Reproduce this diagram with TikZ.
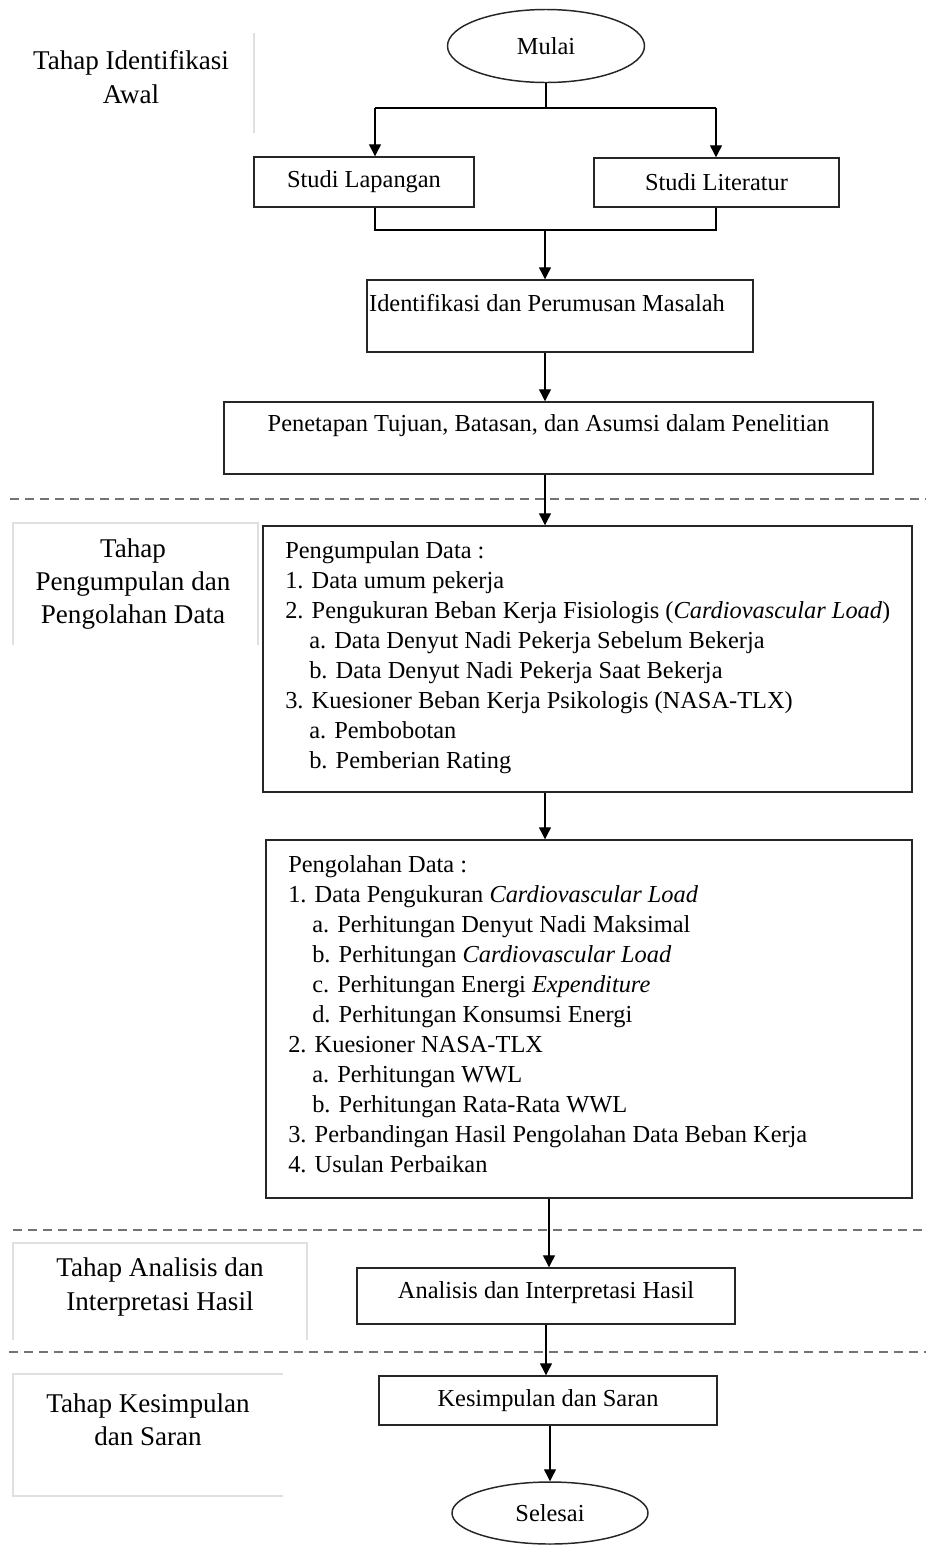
\documentclass[tikz,border=0pt]{standalone}
\usepackage{fontspec}
\setmainfont{Liberation Serif}
\usetikzlibrary{arrows.meta,shapes.geometric}
\begin{document}
\begin{tikzpicture}[x=0.75pt,y=-0.75pt,
  box/.style={draw=black!85,line width=1.1pt,rectangle,inner sep=0pt},
  oval/.style={draw=black!85,line width=1.1pt,ellipse,inner sep=0pt},
  conn/.style={line width=1pt,black},
  arr/.style={conn,-{Triangle[length=9pt,width=9pt]}},
  txt/.style={font=\fontsize{18.3}{22.5}\selectfont,inner sep=0pt},
  lbl/.style={font=\fontsize{20.3}{25}\selectfont,inner sep=0pt,align=center},
  faint/.style={draw=black!12,line width=1pt},
  sep/.style={draw=black!55,line width=1pt,dash pattern=on 6.75pt off 4.5pt}]
\useasboundingbox (0,0) rectangle (926,1546);

% stage labels
\draw[faint] (254,33) -- (254,133);
\node[lbl] (l1) at (131,77) {Tahap Identifikasi\\Awal};
\draw[faint] (13,645) -- (13,523) -- (258,523) -- (258,645);
\node[lbl] (l2) at (133,584) {Tahap\\Pengumpulan dan\\Pengolahan Data};
\draw[faint] (13,1340) -- (13,1243) -- (307,1243) -- (307,1340);
\node[lbl] (l3) at (160,1287) {Tahap Analisis dan\\Interpretasi Hasil};
\draw[faint] (283,1374) -- (13,1374) -- (13,1496) -- (283,1496);
\node[lbl] (l4) at (148,1420) {Tahap Kesimpulan\\dan Saran};

% separators
\draw[sep] (10,499) -- (926,499);
\draw[sep] (13,1230) -- (926,1230);
\draw[sep] (9,1352) -- (926,1352);

% nodes
\node[oval,txt,minimum width=147.75pt,minimum height=54.75pt] (mulai) at (546,46) {Mulai};
\node[box,txt,minimum width=165pt,minimum height=37.5pt] (lap) at (364,182) {Studi Lapangan};
\node[box,txt,minimum width=183.75pt,minimum height=36.75pt] (lit) at (716.5,182.5) {Studi Literatur};
\node[box,minimum width=289.5pt,minimum height=54pt] (ident) at (560,316) {};
\node[txt] (identt) at (547,303) {Identifikasi dan Perumusan Masalah};
\node[box,minimum width=486.75pt,minimum height=54pt] (pen) at (548.5,438) {};
\node[txt] (pent) at (548.5,426) {Penetapan Tujuan, Batasan, dan Asumsi dalam Penelitian};
\node[box,minimum width=486.75pt,minimum height=199.5pt] (kump) at (587.5,659) {};
\node[txt,align=left,anchor=north west] (kumpt) at (285,541) {Pengumpulan Data :\\
1. Data umum pekerja\\
2. Pengukuran Beban Kerja Fisiologis (\textit{Cardiovascular Load})\\
\hspace*{18pt}a. Data Denyut Nadi Pekerja Sebelum Bekerja\\
\hspace*{18pt}b. Data Denyut Nadi Pekerja Saat Bekerja\\
3. Kuesioner Beban Kerja Psikologis (NASA-TLX)\\
\hspace*{18pt}a. Pembobotan\\
\hspace*{18pt}b. Pemberian Rating};
\node[box,minimum width=484.5pt,minimum height=268.5pt] (olah) at (589,1019) {};
\node[txt,align=left,anchor=north west] (olaht) at (288,855) {Pengolahan Data :\\
1. Data Pengukuran \textit{Cardiovascular Load}\\
\hspace*{18pt}a. Perhitungan Denyut Nadi Maksimal\\
\hspace*{18pt}b. Perhitungan \textit{Cardiovascular Load}\\
\hspace*{18pt}c. Perhitungan Energi \textit{Expenditure}\\
\hspace*{18pt}d. Perhitungan Konsumsi Energi\\
2. Kuesioner NASA-TLX\\
\hspace*{18pt}a. Perhitungan WWL\\
\hspace*{18pt}b. Perhitungan Rata-Rata WWL\\
3. Perbandingan Hasil Pengolahan Data Beban Kerja\\
4. Usulan Perbaikan};
\node[box,minimum width=283.5pt,minimum height=42pt] (anal) at (546,1296) {};
\node[txt] (analt) at (546,1293) {Analisis dan Interpretasi Hasil};
\node[box,txt,minimum width=253.5pt,minimum height=36.75pt] (kes) at (548,1400.5) {Kesimpulan dan Saran};
\node[oval,txt,minimum width=147pt,minimum height=46.5pt] (sel) at (550,1513) {Selesai};

% junctions
\coordinate (j1) at (546,108);
\coordinate (ja) at (375,108);
\coordinate (jb) at (716,108);
\coordinate (j2a) at (375,230);
\coordinate (j2b) at (716,230);
\coordinate (j2) at (545,230);

% connectors
\draw[conn] (mulai.south) -- (j1);
\draw[arr] (ja) -- (ja |- lap.north);
\draw[arr] (jb) -- (jb |- lit.north);
\draw[conn] (ja) -- (jb);
\draw[conn] (j2a |- lap.south) -- (j2a) -- (j2b) -- (j2b |- lit.south);
\draw[arr] (j2) -- (j2 |- ident.north);
\draw[arr] (j2 |- ident.south) -- (j2 |- pen.north);
\draw[arr] (j2 |- pen.south) -- (j2 |- kump.north);
\draw[arr] (j2 |- kump.south) -- (j2 |- olah.north);
\draw[arr] ([xshift=3pt]j2 |- olah.south) -- ([xshift=3pt]j2 |- anal.north);
\draw[arr] ([xshift=0.75pt]j2 |- anal.south) -- ([xshift=0.75pt]j2 |- kes.north);
\draw[arr] (sel.north |- kes.south) -- (sel.north);
\end{tikzpicture}
\end{document}
